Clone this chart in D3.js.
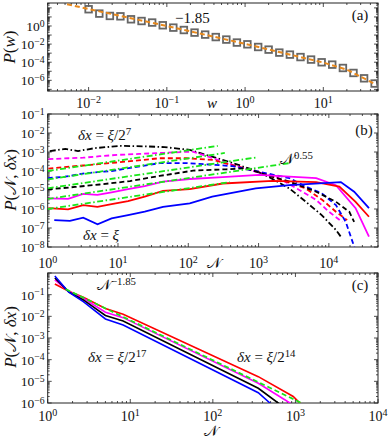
<!DOCTYPE html>
<html>
<head>
<meta charset="utf-8">
<script src="https://cdn.jsdelivr.net/npm/d3@7"></script>
<style>
  body { margin: 0; background: #fff; }
  svg text { font-family: "Liberation Serif", "DejaVu Serif", serif; fill: #111; }
</style>
</head>
<body>
<div id="chart"></div>
<script>
// ---- panel (a): P(w) ----
var aW = [0.0100, 0.0137, 0.0187, 0.0255, 0.0348, 0.0475, 0.0649, 0.0887, 0.121, 0.165,
  0.226, 0.309, 0.422, 0.576, 0.786, 1.07, 1.47, 2.00, 2.74, 3.74,
  5.11, 6.97, 9.52, 13.0, 17.8, 24.3, 33.2, 45.3];
var aP = [71, 23.4, 12.9, 11.7, 5.5, 3.55, 2.4, 1.2, 0.66, 0.36,
  0.186, 0.112, 0.060, 0.0316, 0.0148, 9.5e-3, 4.8e-3, 2.45e-3, 1.15e-3, 6.9e-4,
  3.7e-4, 1.95e-4, 9.8e-5, 5.4e-5, 2.3e-5, 6.5e-6, 1.66e-6, 4.4e-7];
var aFit = [[0.0053, 250], [0.01, 75], [0.1, 1.0], [1, 0.0107], [10, 9.1e-5], [20, 1.5e-5], [47, 3.5e-7]];

// ---- panel (b): P(N, dx), [N, P] ----
var bBlackDashDot = [[1.07, 1.12e-3], [1.78, 1.45e-3], [2.7, 1.12e-3], [4.7, 1.6e-3], [10.7, 2.1e-3], [28, 1.95e-3],
  [46, 1.8e-3], [105, 1.3e-3], [145, 8.9e-4], [390, 2.95e-4], [870, 1.1e-4], [1410, 4.8e-5], [2750, 1.2e-5],
  [4700, 2.4e-6], [7900, 4.8e-7], [12600, 7.9e-8], [14800, 3.5e-8]];
var bMagentaDash = [[1.02, 4.2e-4], [2, 4.7e-4], [3.2, 5.0e-4], [5.5, 6.0e-4], [10, 7.1e-4], [20, 7.9e-4], [46, 9.1e-4],
  [115, 1.05e-3], [224, 4.7e-4], [427, 2.1e-4], [912, 9.1e-5], [1780, 5.0e-5], [3800, 1.0e-5], [6600, 3.0e-6],
  [10000, 7.2e-7], [15500, 2.1e-7]];
var bRedDash = [[1.02, 1.35e-4], [3.2, 1.95e-4], [9.5, 2.8e-4], [39, 4.7e-4], [93, 4.7e-4], [224, 3.8e-4], [479, 1.8e-4],
  [1020, 9.1e-5], [2340, 2.95e-5], [4700, 1.2e-5], [8100, 2.95e-6], [12600, 7.2e-7], [18200, 2.6e-7]];
var bBlueDash = [[1.0, 4.2e-5], [1.76, 5.0e-5], [3.4, 7.6e-5], [8.1, 1.0e-4], [39, 2.6e-4], [93, 2.6e-4], [200, 2.2e-4],
  [427, 1.8e-4], [1020, 9.1e-5], [2750, 4.2e-5], [4700, 1.5e-5], [7900, 6.8e-6], [12600, 1.6e-6], [17400, 2.1e-7],
  [22900, 1.05e-8], [26900, 1e-9]];
var bBlackDash = [[1.0, 1.07e-5], [2.45, 1.45e-5], [5.5, 1.95e-5], [14.8, 2.95e-5], [39, 5.5e-5], [117, 1.05e-4],
  [347, 1.23e-4], [661, 1.38e-4], [1290, 6.2e-5], [2750, 2.75e-5], [6600, 8.1e-6], [12600, 2.4e-6], [19500, 7.2e-7],
  [22900, 2.1e-7]];
var bMagentaSolid = [[1.02, 3.6e-6], [1.95, 3.4e-6], [3.2, 6.2e-6], [5.1, 5.5e-6], [8.1, 7.6e-6], [13.9, 1.1e-5],
  [24, 1.6e-5], [43.7, 2.75e-5], [105, 3.8e-5], [309, 4.8e-5], [1020, 6.2e-5], [2750, 5.0e-5], [6600, 4.2e-5],
  [12600, 1.8e-5], [24000, 1.1e-6], [37200, 3.5e-8]];
var bRedSolid = [[1.02, 1.1e-6], [1.95, 9.5e-7], [3.2, 1.6e-6], [5.1, 1.3e-6], [8.1, 1.8e-6], [13.9, 2.6e-6],
  [24, 4.5e-6], [43.7, 8.9e-6], [105, 1.1e-5], [309, 2.2e-5], [1585, 3.0e-5], [6600, 2.6e-5], [14100, 1.5e-5],
  [24000, 2.4e-6], [37200, 3.9e-7]];
var bBlueSolid = [[1.24, 2.6e-7], [2.07, 2.4e-7], [3.2, 3.5e-7], [5.12, 1.55e-7], [8.1, 3.2e-7], [13.9, 4.8e-7],
  [24, 7.2e-7], [43.7, 1.3e-6], [105, 2.0e-6], [219, 4.5e-6], [912, 1.23e-5], [2750, 1.8e-5], [14800, 2.6e-5],
  [22900, 8.1e-6], [37200, 1.1e-6]];
// N^0.55 guides
var bFit1 = [[1, 1.0e-4], [263, 2.1e-3]];
var bFit2 = [[1, 3.6e-5], [331, 8.9e-4]];
var bFit3 = [[1, 1.23e-5], [933, 5.2e-4]];
var bFit4 = [[1, 3.4e-6], [2750, 2.6e-4]];
var bFit5 = [[1, 1.0e-6], [389, 2.6e-5]];

// ---- panel (c): P(N, dx) collapsed ----
var cRed = [[1.22, 0.31], [1.8, 0.145], [2.7, 0.076], [5.0, 0.023], [8.2, 0.0124], [355, 1.64e-5], [940, 2.0e-6], [1133, 1.0e-6], [1300, 5.9e-7]];
var cMagenta = [[1.22, 0.48], [1.8, 0.14], [2.7, 0.068], [5.0, 0.0155], [8.2, 8.7e-3], [355, 8.1e-6], [857, 1.0e-6], [1100, 4.8e-7]];
var cBlack = [[1.22, 0.59], [1.8, 0.135], [2.7, 0.057], [5.0, 0.011], [8.2, 6.1e-3], [355, 4.8e-6], [617, 1.0e-6], [800, 4.8e-7]];
var cBlue = [[1.22, 0.72], [1.8, 0.13], [2.7, 0.048], [5.0, 7.6e-3], [8.2, 4.0e-3], [355, 3.0e-6], [491, 1.0e-6], [600, 5.1e-7]];
var cFit = [[1.65, 0.18], [1150, 1.05e-6]];

var BLUE = '#0000ff', RED = '#ff0000', MAG = '#ff00ff', BLK = '#000', GRN = '#19e619', ORANGE = '#e8891d';
var NCAL = '\u{1D4A9}';

var W = 390, H = 440;
var svg = d3.select('#chart').append('svg').attr('width', W).attr('height', H);

function mathText(g, x, y, parts, size, anchor) {
  var t = g.append('text').attr('x', x).attr('y', y).attr('font-size', size)
    .attr('text-anchor', anchor || 'start');
  parts.forEach(function (p) {
    var s = t.append('tspan').text(p.t);
    if (p.i) s.attr('font-style', 'italic');
    if (p.sup) s.attr('dy', '-0.45em').attr('font-size', '0.72em');
  });
  return t;
}

function powLabel(e) {
  return [{ t: '10' }, { t: (e < 0 ? '\u2212' : '') + Math.abs(e), sup: true }];
}

function panel(name, x, y, xLab, yLab, xLabY) {
  var g = svg.append('g');
  var x0 = x.range()[0], x1 = x.range()[1], yT = y.range()[1], yB = y.range()[0];
  svg.append('clipPath').attr('id', 'clip-' + name).append('rect')
    .attr('x', x0).attr('y', yT).attr('width', x1 - x0).attr('height', yB - yT);

  var isMajor = function (v) { var l = Math.log10(v); return Math.abs(l - Math.round(l)) < 1e-6; };
  var tg = g.append('g').attr('stroke', '#222').attr('stroke-width', 0.8);
  x.ticks().forEach(function (v) {
    var px = x(v), len = isMajor(v) ? 4 : 2;
    tg.append('line').attr('x1', px).attr('x2', px).attr('y1', yB).attr('y2', yB - len);
    tg.append('line').attr('x1', px).attr('x2', px).attr('y1', yT).attr('y2', yT + len);
  });
  y.ticks().forEach(function (v) {
    var py = y(v), len = isMajor(v) ? 4 : 2;
    tg.append('line').attr('y1', py).attr('y2', py).attr('x1', x0).attr('x2', x0 + len);
    tg.append('line').attr('y1', py).attr('y2', py).attr('x1', x1).attr('x2', x1 - len);
  });
  x.ticks().filter(isMajor).forEach(function (v) {
    var e = Math.round(Math.log10(v));
    if (xLab.indexOf(e) < 0) return;
    mathText(g, x(v), xLabY, powLabel(e), 14, 'middle');
  });
  y.ticks().filter(isMajor).forEach(function (v) {
    var e = Math.round(Math.log10(v));
    if (yLab.indexOf(e) < 0) return;
    mathText(g, x0 - 3, y(v) + 5, powLabel(e), 13.5, 'end');
  });
  g.append('rect').attr('x', x0).attr('y', yT).attr('width', x1 - x0).attr('height', yB - yT)
    .attr('fill', 'none').attr('stroke', '#222').attr('stroke-width', 1);

  var plot = svg.append('g').attr('clip-path', 'url(#clip-' + name + ')');
  var line = d3.line().x(function (d) { return x(d[0]); }).y(function (d) { return y(d[1]); });
  plot.series = function (data, color, dash, width) {
    plot.append('path').datum(data).attr('d', line)
      .attr('fill', 'none').attr('stroke', color).attr('stroke-width', width || 1.8)
      .attr('stroke-dasharray', dash || null);
  };
  return plot;
}

var DASH = '5,3', DASHDOT = '6,2.5,1.5,2.5';

// ---- (a) ----
var xA = d3.scaleLog().domain([0.003, 50]).range([47.7, 378]);
var yA = d3.scaleLog().domain([6.6e-8, 347]).range([91, 3]);
var pa = panel('a', xA, yA, [-2, -1, 0, 1], [0, -2, -4, -6], 108);
pa.selectAll('rect.sq').data(d3.zip(aW, aP)).join('rect').attr('class', 'sq')
  .attr('x', function (d) { return xA(d[0]) - 3.3; }).attr('y', function (d) { return yA(d[1]) - 3.3; })
  .attr('width', 6.6).attr('height', 6.6)
  .attr('fill', 'none').attr('stroke', '#666').attr('stroke-width', 1.8);
pa.series(aFit, ORANGE, DASH, 2);
mathText(svg, 175, 23, [{ t: '\u22121.85' }], 15);
mathText(svg, 360, 20, [{ t: '(a)' }], 15, 'middle');
mathText(svg, 212, 108, [{ t: 'w', i: true }], 15, 'middle');
mathText(svg, 0, 0, [{ t: 'P', i: true }, { t: '(' }, { t: 'w', i: true }, { t: ')' }], 17, 'middle')
  .attr('transform', 'translate(15,47) rotate(-90)');

// ---- (b) ----
var xB = d3.scaleLog().domain([1, 5e4]).range([47.7, 378]);
var yB = d3.scaleLog().domain([1e-8, 1e-1]).range([247, 114]);
var pb = panel('b', xB, yB, [0, 1, 2, 3, 4], [-1, -2, -3, -4, -5, -6, -7, -8], 268);
pb.series(bBlackDashDot, BLK, DASHDOT);
pb.series(bMagentaDash, MAG, DASH);
pb.series(bRedDash, RED, DASH);
pb.series(bBlueDash, BLUE, DASH);
pb.series(bBlackDash, BLK, DASH);
pb.series(bMagentaSolid, MAG, null);
pb.series(bRedSolid, RED, null);
pb.series(bBlueSolid, BLUE, null);
[bFit1, bFit2, bFit3, bFit4, bFit5].forEach(function (f) { pb.series(f, GRN, DASHDOT); });
mathText(svg, 78, 140, [{ t: '\u03B4x', i: true }, { t: ' = ' }, { t: '\u03BE', i: true }, { t: '/2' }, { t: '7', sup: true }], 15);
mathText(svg, 280, 164, [{ t: NCAL }, { t: '0.55', sup: true }], 15);
mathText(svg, 83, 240, [{ t: '\u03B4x', i: true }, { t: ' = ' }, { t: '\u03BE', i: true }], 15);
mathText(svg, 364, 135, [{ t: '(b)' }], 15, 'middle');
mathText(svg, 214, 268, [{ t: NCAL }], 15, 'middle');
mathText(svg, 0, 0, [{ t: 'P', i: true }, { t: '(' + NCAL + ', ' }, { t: '\u03B4x', i: true }, { t: ')' }], 17, 'middle')
  .attr('transform', 'translate(16,180) rotate(-90)');

// ---- (c) ----
var xC = d3.scaleLog().domain([1, 1e4]).range([47.7, 378]);
var yC = d3.scaleLog().domain([1e-6, 1]).range([403, 273]);
var pc = panel('c', xC, yC, [0, 1, 2, 3, 4], [-1, -2, -3, -4, -5, -6], 421);
pc.series(cRed, RED, null, 1.6);
pc.series(cMagenta, MAG, null, 1.6);
pc.series(cBlack, BLK, null, 1.6);
pc.series(cBlue, BLUE, null, 1.6);
pc.series(cFit, GRN, DASH, 1.8);
mathText(svg, 97, 290, [{ t: NCAL }, { t: '\u22121.85', sup: true }], 15);
mathText(svg, 88, 362, [{ t: '\u03B4x', i: true }, { t: ' = ' }, { t: '\u03BE', i: true }, { t: '/2' }, { t: '17', sup: true }], 15);
mathText(svg, 237, 362, [{ t: '\u03B4x', i: true }, { t: ' = ' }, { t: '\u03BE', i: true }, { t: '/2' }, { t: '14', sup: true }], 15);
mathText(svg, 360, 290, [{ t: '(c)' }], 15, 'middle');
mathText(svg, 211, 436, [{ t: NCAL }], 15, 'middle');
mathText(svg, 0, 0, [{ t: 'P', i: true }, { t: '(' + NCAL + ', ' }, { t: '\u03B4x', i: true }, { t: ')' }], 17, 'middle')
  .attr('transform', 'translate(16,337) rotate(-90)');
</script>
</body>
</html>
